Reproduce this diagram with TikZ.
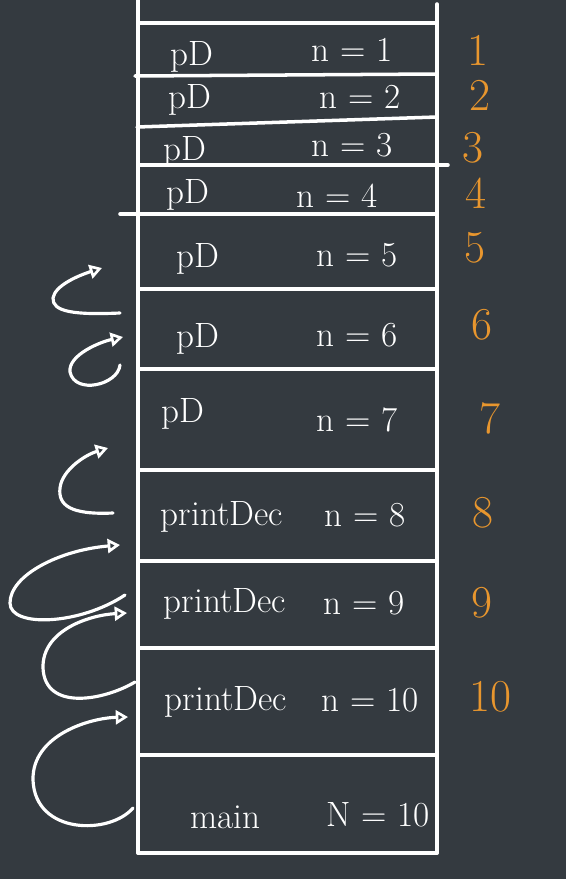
\documentclass[tikz,border=0pt]{standalone}
\usepackage{tikz}
\usetikzlibrary{arrows.meta}
\definecolor{board}{RGB}{52,58,64}
\definecolor{chalkorange}{RGB}{232,150,46}

\begin{document}
\begin{tikzpicture}[x = 0.02cm, y = -0.02cm, line cap = round, line join = round]
\tikzstyle{chalk} = [draw = white, line width = 2pt]
\tikzstyle{fname} = [text = white, font = \fontsize{20}{24}\selectfont, inner sep = 0pt]
\tikzstyle{depth} = [text = chalkorange, font = \fontsize{26}{30}\selectfont, inner sep = 0pt]
\tikzstyle{call} = [chalk, line width = 1.8pt, -{Triangle[open, length = 7pt, width = 8pt, line width = 1.5pt]}]
\fill[board] (0, 0) rectangle (566, 879);
\useasboundingbox (0, 0) rectangle (566, 879);
% stack walls and frame lines
\draw[chalk] (138, 0) -- (138, 853);
\draw[chalk] (437, 4) -- (437, 853);
\foreach \y in {23, 289, 369, 470, 561, 648, 755, 853} \draw[chalk] (138, \y) -- (437, \y);
\draw[chalk] (135, 76) -- (437, 74);
\draw[chalk] (137, 127) -- (437, 117);
\draw[chalk] (140, 165) -- (448, 165);
\draw[chalk] (120, 214) -- (437, 214);
% frames
\node[fname] (pD-1) at (192, 57) {pD};
\node[fname] (n-1) at (352, 50) {n = 1};
\node[fname] (pD-2) at (190, 100) {pD};
\node[fname] (n-2) at (360, 97) {n = 2};
\node[fname] (pD-3) at (185, 152) {pD};
\node[fname] (n-3) at (352, 145) {n = 3};
\node[fname] (pD-4) at (188, 195) {pD};
\node[fname] (n-4) at (337, 196) {n = 4};
\node[fname] (pD-5) at (198, 259) {pD};
\node[fname] (n-5) at (357, 255) {n = 5};
\node[fname] (pD-6) at (198, 339) {pD};
\node[fname] (n-6) at (357, 335) {n = 6};
\node[fname] (pD-7) at (183, 414) {pD};
\node[fname] (n-7) at (357, 420) {n = 7};
\node[fname] (pDec-8) at (222, 517) {printDec};
\node[fname] (n-8) at (365, 515) {n = 8};
\node[fname] (pDec-9) at (225, 604) {printDec};
\node[fname] (n-9) at (364, 603) {n = 9};
\node[fname] (pDec-10) at (226, 702) {printDec};
\node[fname] (n-10) at (370, 700) {n = 10};
\node[fname] (main) at (225, 817) {main};
\node[fname] (N-10) at (378, 815) {N = 10};
% depth counters
\node[depth] (d-1) at (478, 50) {1};
\node[depth] (d-2) at (480, 95) {2};
\node[depth] (d-3) at (473, 148) {3};
\node[depth] (d-4) at (476, 193) {4};
\node[depth] (d-5) at (475, 248) {5};
\node[depth] (d-6) at (482, 325) {6};
\node[depth] (d-7) at (490, 418) {7};
\node[depth] (d-8) at (483, 513) {8};
\node[depth] (d-9) at (482, 603) {9};
\node[depth] (d-10) at (490, 697) {10};
% calls
\coordinate (c1-s) at (120, 313); \coordinate (c1-e) at (102, 268);
\coordinate (c2-s) at (120, 365); \coordinate (c2-e) at (123, 337);
\coordinate (c3-s) at (113, 513); \coordinate (c3-e) at (108, 448);
\coordinate (c4-s) at (125, 595); \coordinate (c4-e) at (120, 545);
\coordinate (c5-s) at (135, 682); \coordinate (c5-e) at (127, 613);
\coordinate (c6-s) at (133, 808); \coordinate (c6-e) at (128, 717);
\draw[call] (c1-s) .. controls (75, 315) and (52, 312) .. (53, 298) .. controls (55, 285) and (80, 275) .. (c1-e);
\draw[call] (c2-s) .. controls (118, 385) and (75, 395) .. (70, 372) .. controls (68, 355) and (100, 342) .. (c2-e);
\draw[call] (c3-s) .. controls (70, 515) and (58, 505) .. (60, 488) .. controls (62, 470) and (85, 455) .. (c3-e);
\draw[call] (c4-s) .. controls (80, 625) and (10, 628) .. (10, 603) .. controls (10, 575) and (60, 550) .. (c4-e);
\draw[call] (c5-s) .. controls (105, 700) and (45, 712) .. (43, 668) .. controls (42, 630) and (90, 615) .. (c5-e);
\draw[call] (c6-s) .. controls (110, 835) and (35, 835) .. (33, 780) .. controls (32, 735) and (90, 718) .. (c6-e);
\end{tikzpicture}
\end{document}
